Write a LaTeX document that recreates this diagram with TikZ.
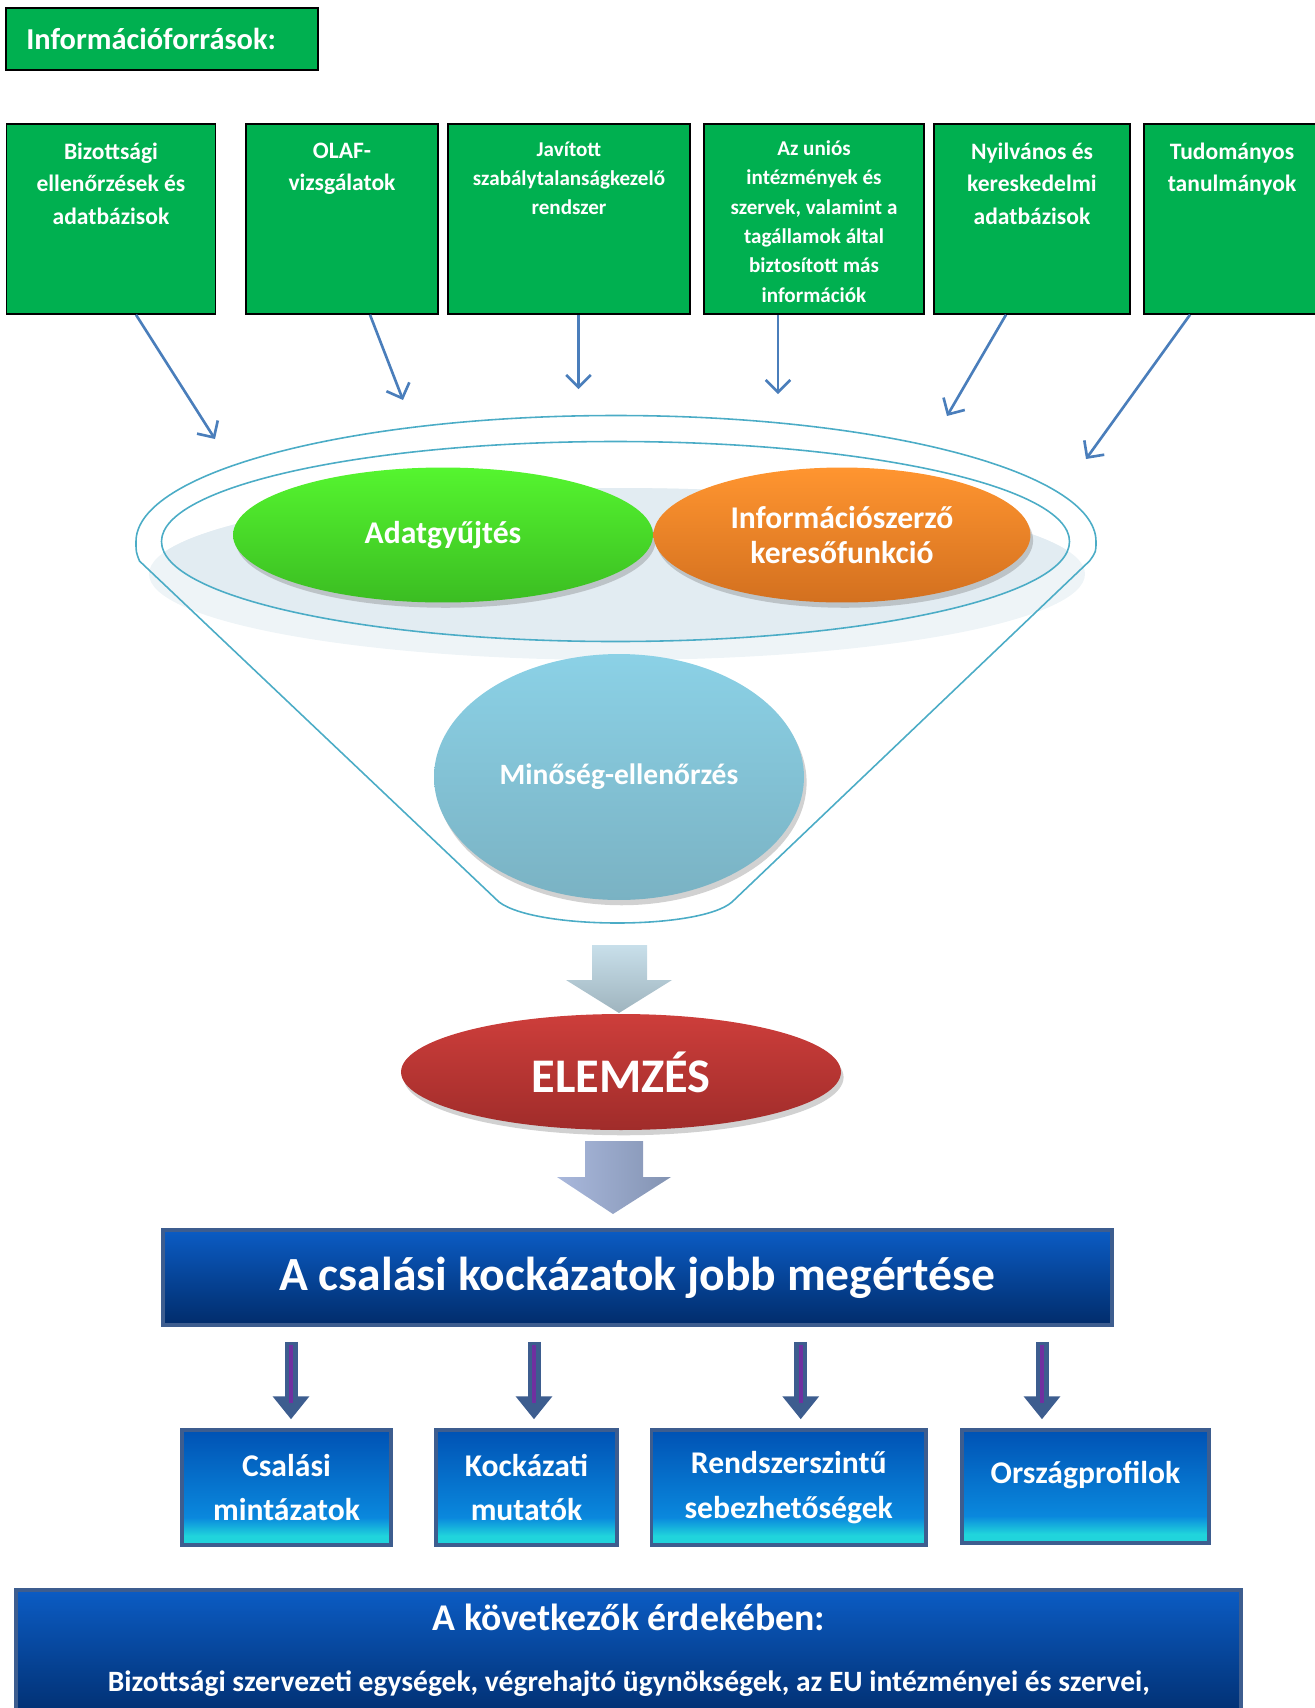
\documentclass[tikz,border=0pt]{standalone}
\usepackage{fontspec}
\setmainfont{Carlito}
\usetikzlibrary{positioning,calc,shapes.geometric,arrows.meta,shadows}

\definecolor{srcgreen}{HTML}{00B050}
\definecolor{feedblue}{HTML}{4A7EBB}
\definecolor{funnelline}{HTML}{4BACC6}
\definecolor{discout}{HTML}{EEF4F7}
\definecolor{discin}{HTML}{E2ECF2}
\definecolor{slate}{HTML}{3D5D8F}
\definecolor{arrpurple}{HTML}{7030A0}
\definecolor{bartop}{HTML}{0052B4}
\definecolor{barmid}{HTML}{0A88DD}
\definecolor{barcyan}{HTML}{20D4DC}
\definecolor{wideTop}{HTML}{0B5CC4}
\definecolor{wideBot}{HTML}{012C6B}
\definecolor{collectTop}{HTML}{55F52F}
\definecolor{collectBot}{HTML}{3BBD22}
\definecolor{searchTop}{HTML}{FF9530}
\definecolor{searchBot}{HTML}{D3701F}
\definecolor{qualTop}{HTML}{8BD1E6}
\definecolor{qualBot}{HTML}{7AB2C3}
\definecolor{anaTop}{HTML}{CD3E3B}
\definecolor{anaBot}{HTML}{A02C2A}
\definecolor{flowTop}{HTML}{C8DFEA}
\definecolor{flowBot}{HTML}{9FB4BE}
\definecolor{flowLeft}{HTML}{A9B8DC}
\definecolor{flowRight}{HTML}{8393B2}

\pgfdeclareverticalshading{bluebar}{100bp}{color(0bp)=(barcyan); color(25bp)=(barcyan);
  color(29bp)=(barcyan); color(37bp)=(barmid); color(75bp)=(bartop); color(100bp)=(bartop)}

\tikzset{
  titlebox/.style={draw=black, line width=1.2pt, fill=srcgreen, text=white,
    font=\bfseries\fontsize{17.3}{20}\selectfont, minimum width=6.23cm, minimum height=1.25cm,
    inner xsep=0.4cm, text width=5.43cm, align=left},
  srcbox/.style={draw=black, line width=0.9pt, fill=srcgreen, minimum height=3.8cm, inner sep=0pt},
  srctext/.style={text=white, font=\bfseries\fontsize{13.4}{18.7}\selectfont, align=center,
    anchor=north, inner sep=0pt},
  srcsmall/.style={srctext, font=\bfseries\fontsize{12}{16.7}\selectfont},
  feed/.style={draw=feedblue, line width=1.5pt, -{Straight Barb[length=7pt,width=14pt]}},
  funnel/.style={draw=funnelline, line width=0.9pt},
  oval/.style={ellipse, inner sep=0pt, text=white, align=center,
    drop shadow={shadow xshift=1.5pt, shadow yshift=-3pt, opacity=0.3, fill=black!60}},
  bigbar/.style={draw=slate, line width=2pt, top color=wideTop, bottom color=wideBot,
    text=white, inner sep=0pt},
  resultbox/.style={draw=slate, line width=2pt, shade, shading=bluebar, text=white, align=center,
    font=\bfseries\fontsize{18}{25.3}\selectfont, minimum height=2.3cm, inner sep=0pt},
  slatearr/.style={draw=slate, line width=7.4pt, -{Triangle[width=20pt,length=13pt]},
    shorten <=0.3cm, shorten >=0.18cm},
  purplein/.style={draw=arrpurple, line width=2.4pt, shorten <=0.36cm, shorten >=0.5cm},
}

\begin{document}
\begin{tikzpicture}[x=0.02cm,y=-0.02cm]
\useasboundingbox (0,0) rectangle (1315,1708);

% information sources
\node[titlebox] (title) at (162,39) {Információforrások:};

\node[srcbox, minimum width=4.18cm] (src1) at (111,219) {};
\node[srcbox, minimum width=3.84cm] (src2) at (342,219) {};
\node[srcbox, minimum width=4.84cm] (src3) at (569,219) {};
\node[srcbox, minimum width=4.40cm] (src4) at (814,219) {};
\node[srcbox, minimum width=3.92cm] (src5) at (1032,219) {};
\node[srcbox, minimum width=3.72cm] (src6) at (1237,219) {};

\node[srctext] (txt1) at ($(src1.north)+(0,19)$) {Bizottsági\\ellenőrzések és\\adatbázisok};
\node[srctext] (txt2) at ($(src2.north)+(0,19)$) {OLAF-\\vizsgálatok};
\node[srcsmall] (txt3) at ($(src3.north)+(0,18)$) {Javított\\szabálytalanságkezelő\\rendszer};
\node[srcsmall] (txt4) at ($(src4.north)+(0,17)$) {Az uniós\\intézmények és\\szervek, valamint a\\tagállamok által\\biztosított más\\információk};
\node[srctext] (txt5) at ($(src5.north)+(0,19)$) {Nyilvános és\\kereskedelmi\\adatbázisok};
\node[srctext] (txt6) at ($(src6.north)+(-5,19)$) {Tudományos\\tanulmányok};

\coordinate (in1) at (215,439);
\coordinate (in2) at (403,400);
\coordinate (in3) at (578.5,389);
\coordinate (in4) at (778,394);
\coordinate (in5) at (947,416);
\coordinate (in6) at (1086,459);
\foreach \i/\dx in {1/25,2/28,3/9.5,4/-36,5/-26,6/-47}
  \draw[feed] ($(src\i.south)+(\dx,0)$) -- (in\i);

% funnel
\fill[discout] (617,574) ellipse[x radius=468, y radius=86];
\begin{scope}
  \clip (615.5,541.5) ellipse[x radius=454, y radius=100];
  \fill[discin] (617,574) ellipse[x radius=468, y radius=86];
\end{scope}
\draw[funnel] (139.5,561) .. controls (136,552) .. (136,541.5)
  arc[start angle=180, end angle=360, x radius=480, y radius=126]
  .. controls (1096,552) .. (1089.5,561) -- (732,902)
  .. controls (700,930) and (536,930) .. (499,902) -- cycle;
\draw[funnel] (615.5,541.5) ellipse[x radius=454, y radius=100];

\node[oval, top color=collectTop, bottom color=collectBot,
  minimum width=8.4cm, minimum height=2.7cm, font=\bfseries\fontsize{18}{19.7}\selectfont]
  (collect) at (443,535) {Adatgyűjtés};
\node[oval, top color=searchTop, bottom color=searchBot,
  minimum width=7.54cm, minimum height=2.7cm, font=\bfseries\fontsize{18}{19.7}\selectfont]
  (search) at (842,535) {Információszerző\\keresőfunkció};
\node[oval, top color=qualTop, bottom color=qualBot,
  minimum width=7.4cm, minimum height=4.92cm, font=\bfseries\fontsize{16.8}{18}\selectfont]
  (quality) at (619,777) {Minőség-ellenőrzés};

% analysis
\shade[top color=flowTop, bottom color=flowBot]
  (592,945) -- (647,945) -- (647,980) -- (672,980) -- (619,1013) -- (566,980) -- (592,980) -- cycle;
\node[oval, top color=anaTop, bottom color=anaBot,
  minimum width=8.8cm, minimum height=2.32cm, font=\bfseries\fontsize{27.5}{30}\selectfont]
  (analysis) at (621,1072) {ELEMZÉS};
\shade[left color=flowLeft, right color=flowRight]
  (585,1141) -- (643,1141) -- (643,1177) -- (671,1177) -- (613,1214) -- (557,1177) -- (585,1177) -- cycle;

% results
\node[bigbar, minimum width=18.98cm, minimum height=1.9cm, font=\bfseries\fontsize{27.1}{30}\selectfont]
  (risk) at (637.5,1277.5) {A csalási kockázatok jobb megértése};

\node[resultbox, minimum width=4.18cm] (res1) at (286.5,1487.5) {Csalási\\mintázatok};
\node[resultbox, minimum width=3.62cm] (res2) at (526.5,1487.5) {Kockázati\\mutatók};
\node[resultbox, minimum width=5.49cm] (res3) at (788.75,1487.5) {Rendszerszintű\\sebezhetőségek};
\node[resultbox, minimum width=4.94cm, minimum height=2.26cm] (res4) at (1085.5,1486.5)
  {\raisebox{16pt}{Országprofilok}};

\foreach \i/\dx in {1/4.5,2/7.5,3/12,4/-43.5}
{
  \coordinate (top\i) at ($(res\i.north)+(\dx,0)$);
  \draw[slatearr] (risk.south -| top\i) -- (top\i);
  \draw[purplein] (risk.south -| top\i) -- (top\i);
}

% usage
\node[bigbar, minimum width=24.5cm, minimum height=2.7cm, anchor=north] (usage) at (628.5,1588) {};
\node[text=white, font=\bfseries\fontsize{21.5}{24}\selectfont] (usehead) at (629,1617) {A következők érdekében:};
\node[text=white, font=\bfseries\fontsize{16.8}{19}\selectfont] (usebody) at (629,1684)
  {Bizottsági szervezeti egységek, végrehajtó ügynökségek, az EU intézményei és szervei,};
\end{tikzpicture}
\end{document}
